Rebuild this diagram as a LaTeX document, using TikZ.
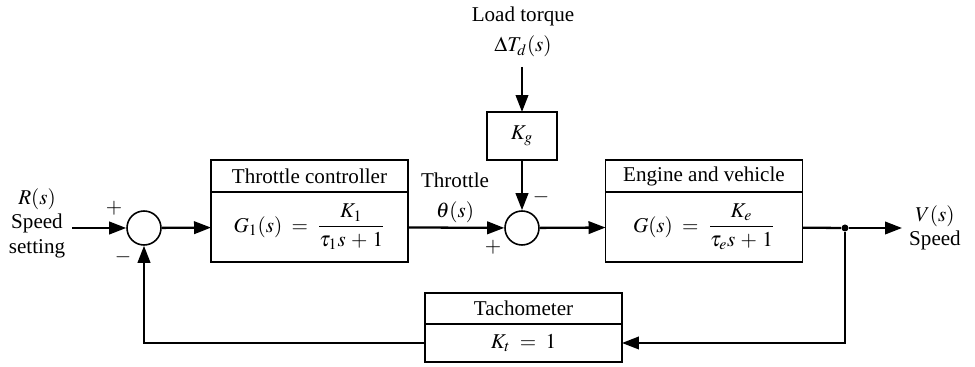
\documentclass[tikz,border=0pt]{standalone}
\usepackage{amsmath}
\usepackage{mathptmx}
\usepackage[no-math]{fontspec}
\setmainfont{Liberation Serif}
\usepackage{tikz}
\usetikzlibrary{positioning,arrows.meta}
\tikzset{
  >={Triangle[length=3.4mm,width=2.5mm]},
  block/.style={draw, line width=0.9pt, outer sep=0pt, minimum width=3.94cm, align=center},
  ttl/.style={block, minimum height=0.64cm},
  body/.style={block, minimum height=1.4cm},
  gain/.style={draw, line width=0.9pt, outer sep=0pt, minimum width=1.4cm, minimum height=0.96cm},
  sum/.style={draw, circle, line width=0.9pt, inner sep=0pt, minimum size=0.68cm},
  sig/.style={align=center, inner sep=0pt},
  l/.style={->, line width=1.3pt},
}

\begin{document}
\begin{tikzpicture}[x=0.02cm, y=-0.02cm, font=\fontsize{12}{14}\selectfont]
  \useasboundingbox (0,0) rectangle (975,367);
  % summing points
  \node[sum] (s1) at (144,228) {};
  \node[sum] (s2) at (522,228) {};
  % blocks
  \node[ttl] (tct) at (309.5,176) {Throttle controller};
  \node[body, below=0pt of tct] (tc) {$G_1(s) \;=\; \dfrac{K_1}{\tau_1 s \,+\, 1}$};
  \node[ttl] (evt) at (704,176) {Engine and vehicle};
  \node[body, below=0pt of evt] (ev) {$G(s) \;=\; \dfrac{K_e}{\tau_e s \,+\, 1}$};
  \node[gain] (kg) at (522,136) {$K_g$};
  \node[ttl, minimum height=0.62cm] (tat) at (523.5,308.5) {Tachometer};
  \node[block, minimum height=0.76cm, below=0pt of tat] (ta) {$K_t \;=\; 1$};
  \node[circle, fill, inner sep=0pt, minimum size=0.14cm] (br) at (845,228) {};
  % free ends
  \coordinate (in) at (72,228);
  \coordinate (out) at (902,228);
  \coordinate (ld) at (522,67);
  % texts
  \node[sig] (rs) at (37,223) {$R(s)$\\Speed\\setting};
  \node[sig] (vs) at (935,228) {$V(s)$\\Speed};
  \node[sig] (th) at (455,198) {Throttle\\[3pt]$\theta(s)$};
  \node[sig] (lt) at (523,32) {Load torque\\[3pt]$\Delta T_d(s)$};
  \node (p1) at (114,208) {$+$};
  \node (m1) at (123,257) {$-$};
  \node (m2) at (541,197) {$-$};
  \node (p2) at (493,247) {$+$};
  % connectors
  \draw[l] (in) -- (s1);
  \draw[l] (s1) -- (tc);
  \draw[l] (tc) -- (s2);
  \draw[l] (ld) -- (kg);
  \draw[l] (kg) -- (s2);
  \draw[l] (s2) -- (ev);
  \draw[line width=1.3pt] (ev) -- (br);
  \draw[l] (br) -- (out);
  \draw[l] (br) |- (ta);
  \draw[l] (ta) -| (s1);
\end{tikzpicture}
\end{document}
